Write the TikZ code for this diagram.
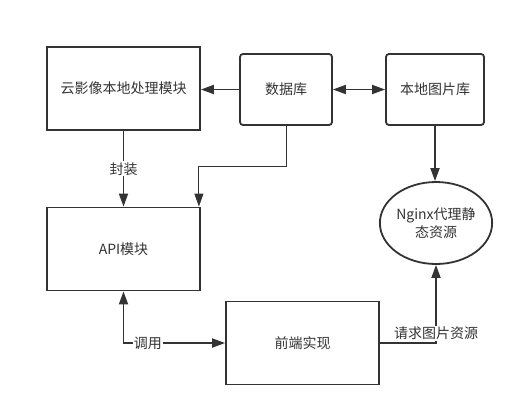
\documentclass[tikz,border=0pt]{standalone}
\usepackage{fontspec}
\setmainfont{Noto Sans CJK SC}
\usetikzlibrary{shapes.geometric, arrows.meta, calc}
\definecolor{traco}{RGB}{51,51,51}
\tikzset{
    modulo/.style={draw=traco, line width=1.8pt, minimum width=153pt, minimum height=83pt, font=\fontsize{14}{18}\selectfont, text=traco},
    banco/.style={modulo, rounded corners=3pt, minimum height=71pt},
    servidor/.style={draw=traco, line width=1.8pt, ellipse, minimum width=112pt, minimum height=82pt, inner sep=0pt, font=\fontsize{14}{18}\selectfont, text=traco, align=center},
    ligacao/.style={draw=traco, line width=1.8pt, >={Triangle[length=13pt,width=9pt]}},
    fio/.style={ligacao, line width=1pt},
    rotulo/.style={fill=white, inner sep=1pt, font=\fontsize{14}{18}\selectfont, text=traco}
}

\begin{document}
\begin{tikzpicture}[x=1pt, y=-1pt]
    \useasboundingbox (0,0) rectangle (532,416);
    \node[modulo] (nuvem) at (123.5,88.5) {云影像本地处理模块};
    \node[banco, minimum width=92pt] (dados) at (286,89.5) {数据库};
    \node[banco, minimum width=98pt] (imagens) at (435,89.5) {本地图片库};
    \node[modulo] (api) at (123.5,249) {API模块};
    \node[modulo] (frente) at (302.5,343) {前端实现};
    \node[servidor] (nginx) at (436,223) {Nginx代理静\\态资源};
    \draw[ligacao,->] (dados.west) -- (dados.west -| nuvem.east);
    \draw[ligacao,<->] (dados.east) -- (imagens.west);
    \draw[ligacao,->] (nuvem) -- node[rotulo] {封装} (api);
    \draw[fio,->] (dados.south) -- ++(0,41) -| ([xshift=-2pt]api.north east);
    \draw[ligacao,->] (imagens.south) -- (imagens.south |- nginx.north);
    \draw[ligacao,<->] (api.south) |- node[rotulo, pos=0.62] {调用} (frente.west);
    \draw[ligacao,->] (frente.east) -| node[rotulo, pos=0.56] {请求图片资源} (nginx.south);
\end{tikzpicture}
\end{document}
